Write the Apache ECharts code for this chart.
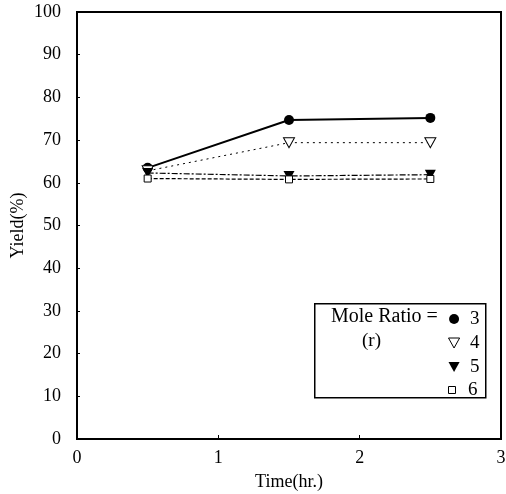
<!DOCTYPE html>
<html>
<head>
<meta charset="utf-8">
<script src="https://cdn.jsdelivr.net/npm/echarts@6/dist/echarts.min.js"></script>
<style>
  html, body { margin: 0; padding: 0; background: #fff; }
  #main { width: 506px; height: 494px; }
</style>
</head>
<body>
<div id="main"></div>
<script>
// data
var times = [0.5, 1.5, 2.5];
var ratios = ['3', '4', '5', '6'];
var yieldR3 = [63.5, 74.7, 75.2];
var yieldR4 = [62.8, 69.4, 69.4];
var yieldR5 = [62.3, 61.6, 61.9];
var yieldR6 = [61.0, 60.8, 60.9];

var font = 'Liberation Serif';
var tri = 'path://M0,0 L10,0 L5,9 Z';
var sq = 'path://M0,0 L10,0 L10,10 L0,10 Z';

function pairs(ys) {
    return times.map(function (t, i) { return [t, ys[i]]; });
}

var chart = echarts.init(document.getElementById('main'));

var option = {
    animation: false,
    textStyle: { fontFamily: font, color: '#000' },
    grid: { left: 77, right: 5, top: 12, bottom: 55, show: true, outerBoundsMode: 'none',
            borderColor: '#000', borderWidth: 2, backgroundColor: 'transparent' },
    xAxis: {
        type: 'value', min: 0, max: 3, interval: 1,
        name: 'Time(hr.)', nameLocation: 'middle', nameGap: 34, nameMoveOverlap: false,
        nameTextStyle: { fontFamily: font, fontSize: 18, color: '#000' },
        axisLine: { show: true, lineStyle: { color: '#000', width: 2 } },
        axisTick: { inside: true, length: 4, lineStyle: { color: '#000' } },
        axisLabel: { fontFamily: font, fontSize: 18, color: '#000', margin: 10 },
        splitLine: { show: false }
    },
    yAxis: {
        type: 'value', min: 0, max: 100, interval: 10,
        name: 'Yield(%)', nameLocation: 'middle', nameGap: 50, nameRotate: 90, nameMoveOverlap: false,
        nameTextStyle: { fontFamily: font, fontSize: 18, color: '#000' },
        axisLine: { show: true, lineStyle: { color: '#000', width: 2 } },
        axisTick: { inside: true, length: 3, lineStyle: { color: '#000' } },
        axisLabel: { fontFamily: font, fontSize: 18, color: '#000', margin: 16 },
        splitLine: { show: false }
    },
    legend: [{
        orient: 'vertical', left: 443, top: 302,
        itemWidth: 22, itemHeight: 10, itemGap: 0, symbolKeepAspect: true,
        textStyle: { fontFamily: font, fontSize: 19, color: '#000', lineHeight: 24 },
        data: [
            { name: ratios[0], icon: 'circle', itemStyle: { color: '#000', borderColor: '#000', borderWidth: 0 } },
            { name: ratios[1], icon: tri, itemStyle: { color: '#fff', borderColor: '#000', borderWidth: 1 } },
            { name: ratios[2], icon: tri, itemStyle: { color: '#000', borderColor: '#000', borderWidth: 0 } }
        ]
    }, {
        orient: 'vertical', left: 443, top: 373,
        itemWidth: 22, itemHeight: 7, itemGap: 0, symbolKeepAspect: true,
        textStyle: { fontFamily: font, fontSize: 19, color: '#000', lineHeight: 24 },
        data: [
            { name: ratios[3], icon: sq, itemStyle: { color: '#fff', borderColor: '#000', borderWidth: 1 } }
        ]
    }],
    graphic: [
        { type: 'rect', left: 314, top: 303, shape: { width: 171, height: 94 },
          style: { fill: '#fff', stroke: '#000', lineWidth: 1.5 }, z: 0 },
        { type: 'text', left: 331, top: 307, z: 10,
          style: { text: 'Mole Ratio =', font: '20px "Liberation Serif"', fill: '#000' } },
        { type: 'text', left: 362, top: 332, z: 10,
          style: { text: '(r)', font: '19px "Liberation Serif"', fill: '#000' } }
    ],
    series: [
        { name: ratios[0], type: 'line', data: pairs(yieldR3),
          symbol: 'circle', symbolSize: 10,
          itemStyle: { color: '#000' },
          lineStyle: { color: '#000', width: 2, type: 'solid' } },
        { name: ratios[1], type: 'line', data: pairs(yieldR4),
          symbol: tri, symbolSize: [11, 10],
          itemStyle: { color: '#fff', borderColor: '#000', borderWidth: 1 },
          lineStyle: { color: '#000', width: 1, type: [2, 4] } },
        { name: ratios[2], type: 'line', data: pairs(yieldR5),
          symbol: tri, symbolSize: [11, 10],
          itemStyle: { color: '#000' },
          lineStyle: { color: '#000', width: 1.2, type: [6, 2, 2, 2] } },
        { name: ratios[3], type: 'line', data: pairs(yieldR6),
          symbol: sq, symbolSize: 7,
          itemStyle: { color: '#fff', borderColor: '#000', borderWidth: 1 },
          lineStyle: { color: '#000', width: 1.2, type: [4, 2] } }
    ]
};

chart.setOption(option);
</script>
</body>
</html>
